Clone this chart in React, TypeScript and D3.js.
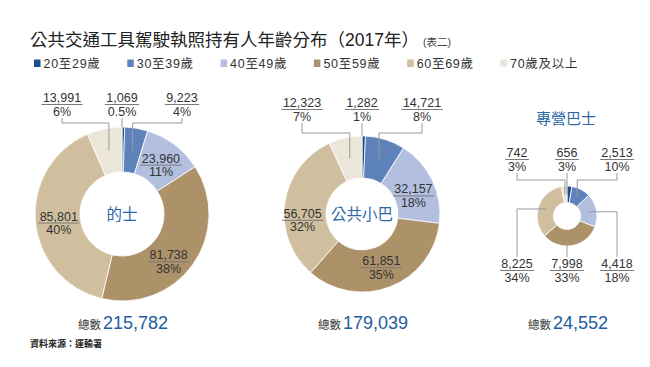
import React, { useEffect, useRef } from 'react';
import * as d3 from 'd3';

// age groups + colours used by all three donuts
const ageGroups = ['20至29歲', '30至39歲', '40至49歲', '50至59歲', '60至69歲', '70歲及以上'];
const ageColors = ['#1b4f8e', '#5e83bb', '#b2bfdf', '#ad9169', '#cfbf9f', '#ece5da'];

const vehicleNames = ['的士', '公共小巴', '專營巴士'];

// licence holders by age group (2017)
const taxiCounts = [1069, 9223, 23960, 81738, 85801, 13991];
const taxiShares = ['0.5%', '4%', '11%', '38%', '40%', '6%'];
const minibusCounts = [1282, 14721, 32157, 61851, 56705, 12323];
const minibusShares = ['1%', '8%', '18%', '35%', '32%', '7%'];
const busCounts = [656, 2513, 4418, 7998, 8225, 742];
const busShares = ['3%', '10%', '18%', '33%', '34%', '3%'];

const chartTitle = '公共交通工具駕駛執照持有人年齡分布（2017年）';
const tableNote = '(表二)';
const totalLabel = '總數';
const sourceNote = '資料來源：運輸署';

const FONT = '"Liberation Sans", "Noto Sans CJK TC", sans-serif';
const BLUE = '#2c68a6';
const LINE = '#999';

// where each slice label goes (layout only)
const donutLayouts = [
  {
    cx: 122, cy: 214, outer: 87, inner: 42, topY: 102, elbowY: 123, bottomY: 0, spread: 60, nameInside: true,
    place: [
      { pos: 'top', side: 0 }, { pos: 'top', side: 1 }, { pos: 'in', dx: 0, dy: 0 },
      { pos: 'in', dx: -6, dy: 8 }, { pos: 'in', dx: 1, dy: 1 }, { pos: 'top', side: -1 },
    ],
  },
  {
    cx: 362, cy: 214, outer: 78, inner: 36, topY: 107, elbowY: 133, bottomY: 0, spread: 60, nameInside: true,
    place: [
      { pos: 'top', side: 0 }, { pos: 'top', side: 1 }, { pos: 'in', dx: 0, dy: 4 },
      { pos: 'in', dx: -1, dy: -2 }, { pos: 'in', dx: -3, dy: 12 }, { pos: 'top', side: -1 },
    ],
  },
  {
    cx: 567, cy: 216, outer: 30, inner: 13.5, topY: 157, elbowY: 180, bottomY: 268, spread: 50, nameInside: false,
    place: [
      { pos: 'top', side: 0 }, { pos: 'top', side: 1 }, { pos: 'bottom', side: 1 },
      { pos: 'bottom', side: 0 }, { pos: 'bottom', side: -1 }, { pos: 'top', side: -1 },
    ],
  },
];

const seriesCounts = [taxiCounts, minibusCounts, busCounts];
const seriesShares = [taxiShares, minibusShares, busShares];

const App = () => {
  const ref = useRef<SVGGElement>(null);

  useEffect(() => {
    const g = d3.select(ref.current);
    g.selectAll('*').remove();
    const fmt = d3.format(',');
    const pie = d3.pie<number>().sort(null).value(d => d);

    // title
    const title = g.append('text')
      .attr('x', 30).attr('y', 45.5)
      .attr('font-size', 17.5).attr('fill', '#222');
    title.append('tspan').text(chartTitle);
    title.append('tspan').attr('font-size', 10.5).attr('dx', 4).attr('fill', '#444').text(tableNote);

    // legend
    ageGroups.forEach((name, i) => {
      const x = 34 + i * 93.3;
      g.append('rect').attr('x', x).attr('y', 59.5).attr('width', 6.5).attr('height', 7.5).attr('fill', ageColors[i]);
      g.append('text').attr('x', x + 9.5).attr('y', 67.5)
        .attr('font-size', 12.5).attr('letter-spacing', 0.7).attr('fill', '#333').text(name);
    });

    donutLayouts.forEach((L, k) => {
      const counts = seriesCounts[k];
      const shares = seriesShares[k];
      const arcs = pie(counts);
      const arc = d3.arc<d3.PieArcDatum<number>>().innerRadius(L.inner).outerRadius(L.outer);
      const dg = g.append('g').attr('transform', `translate(${L.cx},${L.cy})`);

      dg.selectAll('path.slice')
        .data(arcs)
        .enter()
        .append('path')
        .attr('class', 'slice')
        .attr('d', arc)
        .attr('fill', (d, i) => ageColors[i])
        .attr('stroke', '#fff')
        .attr('stroke-width', 0.8);

      const labelBlock = (x: number, y: number, value: number, share: string) => {
        const v = dg.append('text').attr('x', x).attr('y', y)
          .attr('text-anchor', 'middle').attr('font-size', 12.5).attr('fill', '#333').text(fmt(value));
        const w = (v.node() as SVGTextElement).getComputedTextLength() + 3;
        dg.append('line')
          .attr('x1', x - w / 2).attr('x2', x + w / 2)
          .attr('y1', y + 2.5).attr('y2', y + 2.5)
          .attr('stroke', '#7a7a7a').attr('stroke-width', 1);
        dg.append('text').attr('x', x).attr('y', y + 13.5)
          .attr('text-anchor', 'middle').attr('font-size', 12.5).attr('fill', '#333').text(share);
      };

      arcs.forEach((a, i) => {
        const p = L.place[i] as any;
        const [mx, my] = arc.centroid(a);
        const tiny = a.endAngle - a.startAngle < 0.05;
        if (p.pos === 'in') {
          labelBlock(mx + p.dx, my + p.dy, counts[i], shares[i]);
          return;
        }
        const lx = p.side * L.spread;
        if (p.pos === 'top') {
          const vy = L.topY - L.cy;
          labelBlock(lx, vy, counts[i], shares[i]);
          const endY = tiny ? -L.outer : my;
          const d = p.side === 0
            ? `M${lx},${vy + 16}V${endY}`
            : `M${lx},${vy + 16}V${L.elbowY - L.cy}H${mx}V${endY}`;
          dg.append('path').attr('d', d).attr('fill', 'none').attr('stroke', LINE).attr('stroke-width', 1);
        } else {
          const vy = L.bottomY - L.cy;
          labelBlock(lx, vy, counts[i], shares[i]);
          const d = p.side === 0
            ? `M${lx},${my}V${vy - 11}`
            : `M${mx},${my}H${lx}V${vy - 11}`;
          dg.append('path').attr('d', d).attr('fill', 'none').attr('stroke', LINE).attr('stroke-width', 1);
        }
      });

      // vehicle name
      if (L.nameInside) {
        dg.append('text').attr('x', 0).attr('y', 6)
          .attr('text-anchor', 'middle').attr('font-size', 15.5).attr('fill', BLUE).text(vehicleNames[k]);
      } else {
        dg.append('text').attr('x', -1).attr('y', 124 - L.cy)
          .attr('text-anchor', 'middle').attr('font-size', 15).attr('fill', BLUE).text(vehicleNames[k]);
      }

      // total
      const total = g.append('text').attr('x', L.cx + 1).attr('y', 328.5).attr('text-anchor', 'middle');
      total.append('tspan').attr('font-size', 11.5).attr('fill', '#333').text(totalLabel);
      total.append('tspan').attr('dx', 2).attr('font-size', 18).attr('fill', '#1f5c9e').text(fmt(d3.sum(counts)));
    });

    g.append('text').attr('x', 30).attr('y', 347)
      .attr('font-size', 9).attr('font-weight', 'bold').attr('fill', '#222').text(sourceNote);
  }, []);

  return (
    <svg width={650} height={367} style={{ position: 'absolute', left: 0, top: 0, background: '#fff' }}
      fontFamily={FONT}>
      <g ref={ref} />
    </svg>
  );
};

export default App;
